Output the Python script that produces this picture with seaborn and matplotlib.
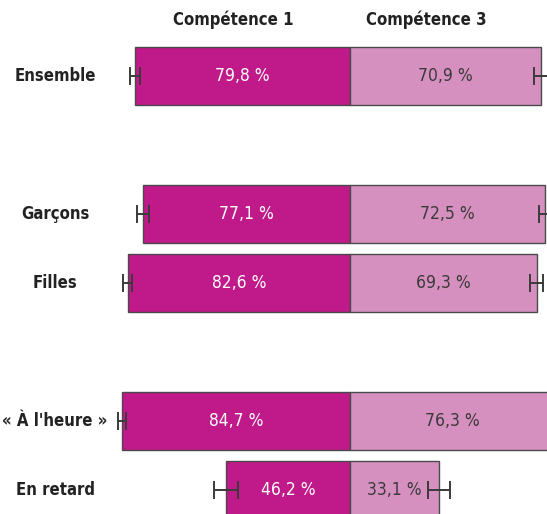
import matplotlib
matplotlib.use("Agg")
import matplotlib.pyplot as plt
import seaborn as sns
import pandas as pd
import numpy as np

groups = ["Ensemble", "Garçons", "Filles", "« À l'heure »", "En retard"]
comp1 = [79.8, 77.1, 82.6, 84.7, 46.2]
comp3 = [70.9, 72.5, 69.3, 76.3, 33.1]
err1 = [1.8, 2.2, 1.7, 1.4, 4.4]
err3 = [2.5, 2.2, 2.5, 2.0, 4.1]
series = ["Compétence 1", "Compétence 3"]
order = ["Ensemble", "_gap1", "Garçons", "Filles", "_gap2", "« À l'heure »", "En retard"]

sns.set_theme(style="white")
plt.rcParams["font.family"] = ["Liberation Sans Narrow", "DejaVu Sans Condensed", "DejaVu Sans"]
plt.rcParams["font.stretch"] = "condensed"

c_dark = "#C0198A"
c_light = "#D690C0"
edge = "#4a4a4a"

df = pd.DataFrame({
    "group": groups * 2,
    "value": [-v for v in comp1] + comp3,
    "comp": [series[0]] * len(groups) + [series[1]] * len(groups),
})

fig = plt.figure(figsize=(5.47, 5.14), dpi=100)
ax = fig.add_axes([0, 0, 1, 1])
sns.barplot(data=df, x="value", y="group", hue="comp", order=order,
            hue_order=series, palette=[c_dark, c_light], dodge=False,
            orient="h", width=0.84, errorbar=None, edgecolor=edge,
            linewidth=1.0, legend=False, saturation=1, ax=ax)

pos = {g: order.index(g) for g in groups}
ys = [pos[g] for g in groups]
ax.errorbar([-v for v in comp1], ys, xerr=err1, fmt="none", ecolor="#3a3a3a",
            elinewidth=1.4, capsize=6.5, capthick=1.4)
ax.errorbar(comp3, ys, xerr=err3, fmt="none", ecolor="#3a3a3a",
            elinewidth=1.4, capsize=6.5, capthick=1.4)

for g, a, b, y in zip(groups, comp1, comp3, ys):
    ax.text(-a / 2, y, f"{a:.1f} %".replace(".", ","), ha="center", va="center",
            color="white", fontsize=12.5, fontstretch="condensed")
    ax.text(b / 2, y, f"{b:.1f} %".replace(".", ","), ha="center", va="center",
            color="#3a3a3a", fontsize=12.5, fontstretch="condensed")
    ax.text(55 / 547, y, g, transform=ax.get_yaxis_transform(), ha="center",
            va="center", color="#222222", fontsize=12, fontweight="bold",
            fontstretch="condensed")

for s, xf in zip(series, [233 / 547, 426 / 547]):
    ax.text(xf, -0.81, s, transform=ax.get_yaxis_transform(), ha="center",
            va="center", color="#222222", fontsize=12, fontweight="bold",
            fontstretch="condensed")

ax.set_xlim(-130.1, 73.2)
ax.set_ylim(6.35, -1.10)
ax.axis("off")
fig.savefig("out.png", dpi=100)
